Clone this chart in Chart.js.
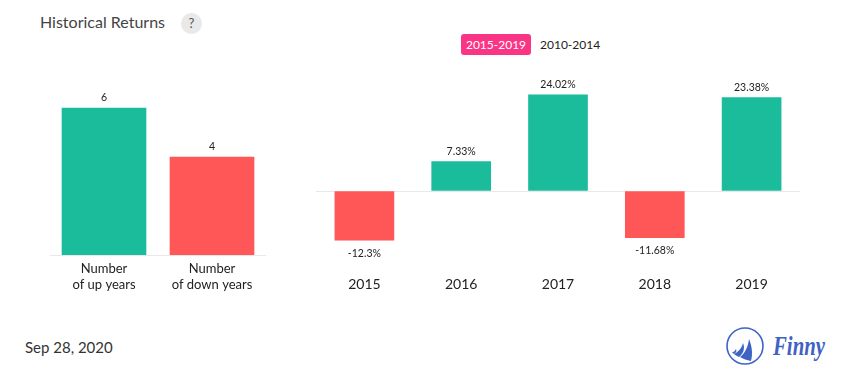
<!DOCTYPE html>
<html>
<head>
<meta charset="utf-8">
<title>Historical Returns</title>
<script src="https://cdn.jsdelivr.net/npm/chart.js@4"></script>
<style>
  html, body { margin: 0; padding: 0; background: #fff; }
  body { width: 855px; height: 382px; position: relative; overflow: hidden; font-family: Lato, sans-serif; }
  .abs { position: absolute; white-space: nowrap; }
  #titulo { left: 40px; top: 12px; font-size: 16px; line-height: 20px; color: #444; }
  #ajuda { left: 181px; top: 13px; width: 21px; height: 21px; line-height: 21px; border-radius: 50%; background: #e9e9e9; color: #555; font-size: 13px; text-align: center; }
  #periodoAtivo { left: 461px; top: 34px; width: 70px; height: 21px; line-height: 21px; border-radius: 3px; background: #fb3585; color: #fff; font-size: 12px; text-align: center; }
  #periodoOutro { left: 540px; top: 34px; height: 21px; line-height: 21px; color: #222; font-size: 12px; }
  #data { left: 25px; top: 337px; font-size: 15px; line-height: 20px; color: #333; }
  #logo { left: 720px; top: 322px; }
  canvas { position: absolute; }
  #graficoAnos { left: 50px; top: 50px; }
  #graficoRetornos { left: 316px; top: 71px; }
</style>
</head>
<body>
<div class="abs" id="titulo">Historical Returns</div>
<div class="abs" id="ajuda">?</div>
<div class="abs" id="periodoAtivo">2015-2019</div>
<div class="abs" id="periodoOutro">2010-2014</div>
<div class="abs" id="data">Sep 28, 2020</div>
<svg class="abs" id="logo" width="115" height="50" viewBox="0 0 115 50">
  <circle cx="25" cy="24" r="18" fill="none" stroke="#3f63c4" stroke-width="1.6"/>
  <path d="M29 17 C32 24 33 32 31 39 C27 38 23 37 20 35 C25 31 28 25 29 17Z" fill="#3f63c4"/>
  <path d="M23 21 C25 26 24 31 19 35 C17 34 15 33 14 32 C18 30 22 26 23 21Z" fill="#3f63c4"/>
  <path d="M16 27 C17 29 16 31 14 32 L12 30.5 C14 30 15 29 16 27Z" fill="#3f63c4"/>
  <text x="53" y="33" textLength="52" lengthAdjust="spacingAndGlyphs" font-family="'Liberation Serif', serif" font-style="italic" font-weight="700" font-size="27" fill="#3f63c4">Finny</text>
</svg>
<canvas id="graficoAnos" width="216" height="255"></canvas>
<canvas id="graficoRetornos" width="484" height="240"></canvas>

<script>
const CATEGORIAS_ANOS = [["Number", "of up years"], ["Number", "of down years"]];
const VALORES_ANOS = [6, 4];
const ANOS = ["2015", "2016", "2017", "2018", "2019"];
const RETORNOS = [-12.3, 7.33, 24.02, -11.68, 23.38];
const ROTULOS_RETORNOS = ["-12.3%", "7.33%", "24.02%", "-11.68%", "23.38%"];

const VERDE = "#1abc9c";
const VERMELHO = "#ff5757";
const COR_EIXO = "#e8e8e8";

// escreve o valor em cima (ou embaixo) de cada barra
const rotulosBarras = {
  id: "rotulosBarras",
  afterDatasetsDraw(chart, args, opts) {
    const ctx = chart.ctx;
    const barras = chart.getDatasetMeta(0).data;
    ctx.save();
    ctx.font = "10.5px Lato, sans-serif";
    ctx.fillStyle = "#222";
    ctx.textAlign = "center";
    ctx.textBaseline = "middle";
    barras.forEach((b, i) => {
      const negativo = chart.data.datasets[0].data[i] < 0;
      ctx.fillText(opts.textos[i], b.x, negativo ? b.y + 13 : b.y - 10);
    });
    ctx.restore();
  }
};

function corBarra(v) {
  return v < 0 ? VERMELHO : VERDE;
}

new Chart(document.getElementById("graficoAnos"), {
  type: "bar",
  plugins: [rotulosBarras],
  data: {
    labels: CATEGORIAS_ANOS,
    datasets: [{
      data: VALORES_ANOS,
      backgroundColor: [VERDE, VERMELHO],
      barThickness: 84
    }]
  },
  options: {
    responsive: false,
    animation: false,
    layout: { padding: { top: 9, left: 0, right: 0, bottom: 0 } },
    plugins: {
      legend: { display: false },
      tooltip: { enabled: false },
      rotulosBarras: { textos: VALORES_ANOS.map(String) }
    },
    scales: {
      x: {
        grid: { display: false, drawTicks: false },
        border: { color: COR_EIXO, width: 1 },
        ticks: { color: "#222", font: { family: "Lato", size: 13 }, padding: 6, maxRotation: 0, autoSkip: false },
        afterFit: s => { s.height = 50; }
      },
      y: {
        min: 0,
        max: 8,
        display: false
      }
    }
  }
});

new Chart(document.getElementById("graficoRetornos"), {
  type: "bar",
  plugins: [rotulosBarras],
  data: {
    labels: ANOS,
    datasets: [{
      data: RETORNOS,
      backgroundColor: RETORNOS.map(corBarra),
      barThickness: 59
    }]
  },
  options: {
    responsive: false,
    animation: false,
    layout: { padding: 0 },
    plugins: {
      legend: { display: false },
      tooltip: { enabled: false },
      rotulosBarras: { textos: ROTULOS_RETORNOS }
    },
    scales: {
      x: {
        grid: { display: false, drawTicks: false },
        border: { display: false },
        ticks: { color: "#222", font: { family: "Lato", size: 14 }, padding: 5, maxRotation: 0 },
        afterFit: s => { s.height = 40; }
      },
      y: {
        min: -20,
        max: 30,
        border: { display: false },
        ticks: { display: false, stepSize: 10 },
        grid: {
          drawTicks: false,
          color: c => (c.tick.value === 0 ? COR_EIXO : "transparent")
        },
        afterFit: s => { s.width = 0; }
      }
    }
  }
});
</script>
</body>
</html>
